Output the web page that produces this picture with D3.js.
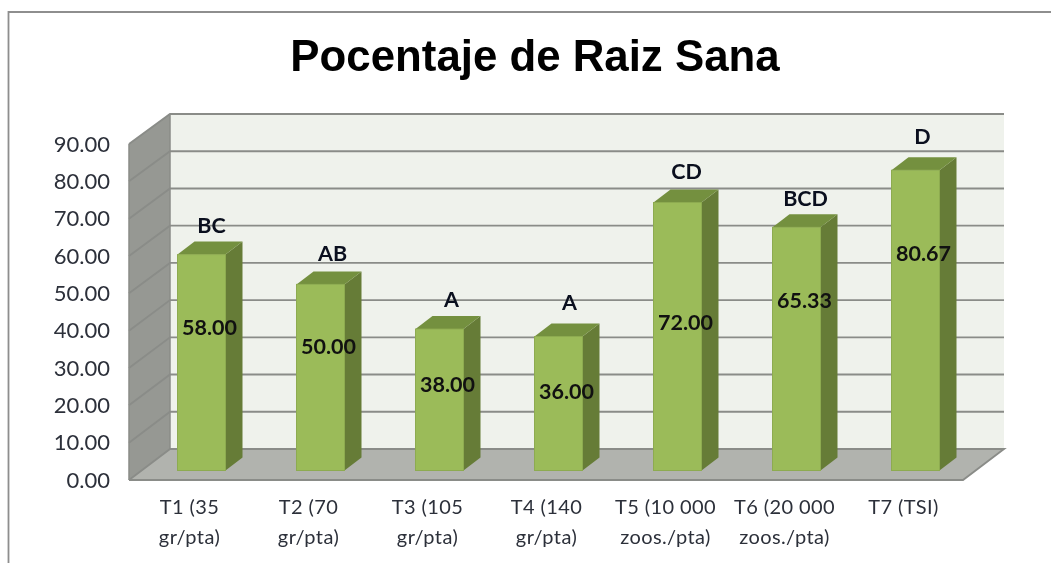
<!DOCTYPE html>
<html><head><meta charset="utf-8">
<script src="https://cdn.jsdelivr.net/npm/d3@7"></script>
<style>html,body{margin:0;background:#fff}svg{display:block;filter:blur(0.45px)}</style></head>
<body><div id="c"></div>
<script>
const categories=[["T1 (35","gr/pta)"],["T2 (70","gr/pta)"],["T3 (105","gr/pta)"],["T4 (140","gr/pta)"],["T5 (10 000","zoos./pta)"],["T6 (20 000","zoos./pta)"],["T7 (TSI)"]];
const ids=["T1","T2","T3","T4","T5","T6","T7"];
const values=[58,50,38,36,72,65.33,80.67];
const letters=["BC","AB","A","A","CD","BCD","D"];
const ticks=[0,10,20,30,40,50,60,70,80,90];
const W=1051,H=563;
const svg=d3.select("#c").append("svg").attr("width",W).attr("height",H);
const F="Lato, 'Open Sans', sans-serif";
const INK="#2c303a";
// frame
svg.append("path").attr("d","M8.5,563V12H1051").attr("fill","none").attr("stroke","#8e8e8e").attr("stroke-width",1.8);
svg.append("text").attr("x",535).attr("y",71).attr("text-anchor","middle").attr("font-family","'Liberation Sans'").attr("font-weight",700).attr("font-size",43.8).attr("fill","#000").text("Pocentaje de Raiz Sana");
// scales
const yFront=d3.scaleLinear().domain([0,90]).range([480,144]);
const yBack=d3.scaleLinear().domain([0,90]).range([449,114]);
const yBar=d3.scaleLinear().domain([0,90]).range([470.5,135.5]);
const x=d3.scaleBand().domain(ids).range([141.5,974.5]);
const xl=129,xb=170,xr=1004,xfr=963;
// walls
svg.append("path").attr("d",`M${xb},${yBack(90)}H${xr}V${yBack(0)}H${xb}Z`).attr("fill","#eff2ec");
svg.append("path").attr("d",`M${xl},${yFront(90)}L${xb},${yBack(90)}V${yBack(0)}L${xl},${yFront(0)}Z`).attr("fill","#969893");
svg.append("path").attr("d",`M${xl},${yFront(0)}L${xb},${yBack(0)}H${xr}L${xfr},${yFront(0)}Z`).attr("fill","#b1b3ae");
// grid
const g=svg.append("g").attr("fill","none").attr("stroke","#8a8c88").attr("stroke-width",1.9);
ticks.forEach(t=>{
  g.append("path").attr("d",`M${xl},${yFront(t)}L${xb},${yBack(t)}H${xr}`+(t===0?`L${xfr},${yFront(0)}H${xl}`:""));
});
g.append("path").attr("d",`M${xl},${yFront(90)}V${yFront(0)}M${xb},${yBack(90)}V${yBack(0)}`).attr("stroke-width",1.5);
// y axis labels
svg.append("g").selectAll("text").data(ticks).join("text").attr("x",110).attr("y",d=>yFront(d)+7.5).attr("text-anchor","end").attr("font-family",F).attr("font-size",22).attr("fill",INK).text(d=>d3.format(".2f")(d));
// bars
const bw=48,dx=17,dy=13;
const b=svg.append("g").selectAll("g").data(ids).join("g");
const bx=d=>x(d)+x.bandwidth()/2-bw/2+0.5;
b.append("path").attr("fill","#667c37").attr("d",(d,i)=>{const X=bx(d),Y=yBar(values[i]);return `M${X+bw},${Y}L${X+bw+dx},${Y-dy}V${yBar(0)-dy}L${X+bw},${yBar(0)}Z`});
b.append("path").attr("fill","#74903f").attr("d",(d,i)=>{const X=bx(d),Y=yBar(values[i]);return `M${X},${Y}L${X+dx},${Y-dy}H${X+bw+dx}L${X+bw},${Y}Z`});
b.append("rect").attr("x",bx).attr("y",(d,i)=>yBar(values[i])).attr("width",bw).attr("height",(d,i)=>yBar(0)-yBar(values[i])).attr("fill","#9bbb59").attr("stroke","#8dab50").attr("stroke-width",1);
// value labels: sit at hand-placed heights in the original, well above the bar middles
const valueShift=[-35,-30,-15,-12,-14,-48,-66];
svg.append("g").selectAll("text").data(ids).join("text").attr("x",d=>bx(d)+bw/2+8).attr("y",(d,i)=>(yBar(values[i])+yBar(0))/2+7+valueShift[i]).attr("text-anchor","middle").attr("font-family",F).attr("font-weight",700).attr("font-size",21.5).attr("fill","#111").text((d,i)=>d3.format(".2f")(values[i]));
// letters
const letterDx=[2,4,4,3,1,1,-1], letterDy=[2,1,2,-3,0,3,-2];
svg.append("g").selectAll("text").data(ids).join("text").attr("x",(d,i)=>bx(d)+bw/2+8+letterDx[i]).attr("y",(d,i)=>yBar(values[i])-24+letterDy[i]).attr("text-anchor","middle").attr("font-family",F).attr("font-weight",700).attr("font-size",21.5).attr("fill","#0a0f1e").text((d,i)=>letters[i]);
// categories
const cat=svg.append("g").selectAll("text").data(ids).join("text").attr("text-anchor","middle").attr("font-family",F).attr("font-size",20).attr("letter-spacing",0.4).attr("fill",INK);
cat.selectAll("tspan").data((d,i)=>categories[i].map(s=>({s,d}))).join("tspan").attr("x",o=>x(o.d)+x.bandwidth()/2-11.5).attr("y",(o,j)=>514+j*29.5).text(o=>o.s);
</script></body></html>
